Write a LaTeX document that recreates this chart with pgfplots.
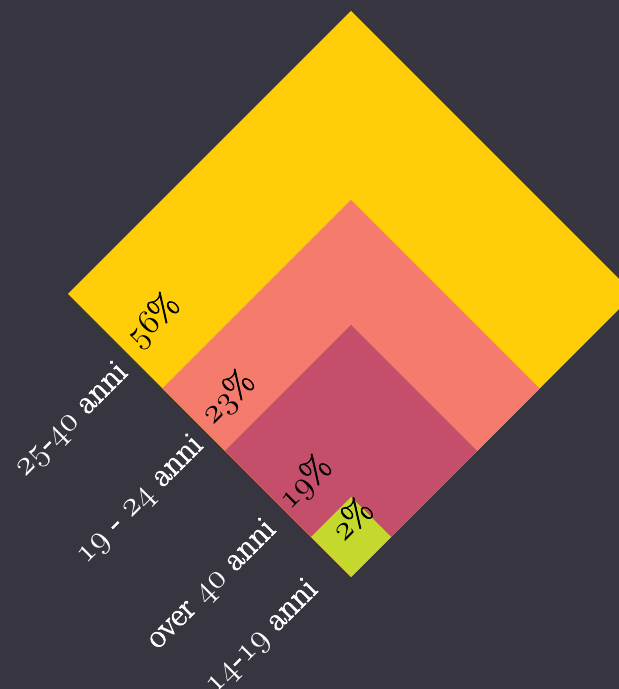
\RequirePackage{fix-cm}
\documentclass[border=0pt]{standalone}
\usepackage{pgfplots}
\pgfplotsset{compat=1.18}
\definecolor{bgcol}{RGB}{55,54,64}
\definecolor{cyel}{RGB}{255,206,8}
\definecolor{csal}{RGB}{245,124,108}
\definecolor{cmag}{RGB}{197,78,107}
\definecolor{cgrn}{RGB}{196,216,46}
\DeclareMathSizes{34}{34}{24}{17}
\newcommand{\os}[1]{{$\oldstylenums{#1}$}}
\newcommand{\heavy}[1]{\special{pdf:literal direct 2 Tr 0.7 w}#1\special{pdf:literal direct 0 Tr}}
\tikzset{lab/.style={rotate=45, inner sep=0pt, font=\fontsize{34}{38}\selectfont}}
\begin{document}
\begin{tikzpicture}
\begin{axis}[
  scale only axis, width=619pt, height=689pt,
  xmin=0, xmax=619, ymin=0, ymax=689,
  axis lines=none, ticks=none,
  axis background/.style={fill=bgcol},
]
% nested squares (cumulative shares), common bottom corner
\addplot[fill=cyel, draw=none] coordinates {(351,112) (634,395) (351,678) (68,395)} --cycle;
\addplot[fill=csal, draw=none] coordinates {(351,112) (539.5,300.5) (351,489) (162.5,300.5)} --cycle;
\addplot[fill=cmag, draw=none] coordinates {(351,112) (477,238) (351,364) (225,238)} --cycle;
\addplot[fill=cgrn, draw=none] coordinates {(351,112) (391,152) (351,192) (311,152)} --cycle;
% percentages
\node[lab, black] at (axis cs:153,368) {\os{56}\heavy{\%}};
\node[lab, black] at (axis cs:228,291) {\os{23}\heavy{\%}};
\node[lab, black] at (axis cs:305,206) {\os{19}\heavy{\%}};
\node[lab, black] at (axis cs:351,170) {\os{2}\heavy{\%}};
% categories
\node[lab, white] at (axis cs:72,269) {\os{25}\heavy{-}\os{40}\heavy{ anni}};
\node[lab, white] at (axis cs:140,189) {\os{19}\heavy{ - }\os{24}\heavy{ anni}};
\node[lab, white] at (axis cs:212,104) {\heavy{over }\os{40}\heavy{ anni}};
\node[lab, white] at (axis cs:262,52) {\os{14}\heavy{-}\os{19}\heavy{ anni}};
\end{axis}
\pgfresetboundingbox
\useasboundingbox (current axis.south west) rectangle (current axis.north east);
\end{tikzpicture}
\end{document}
